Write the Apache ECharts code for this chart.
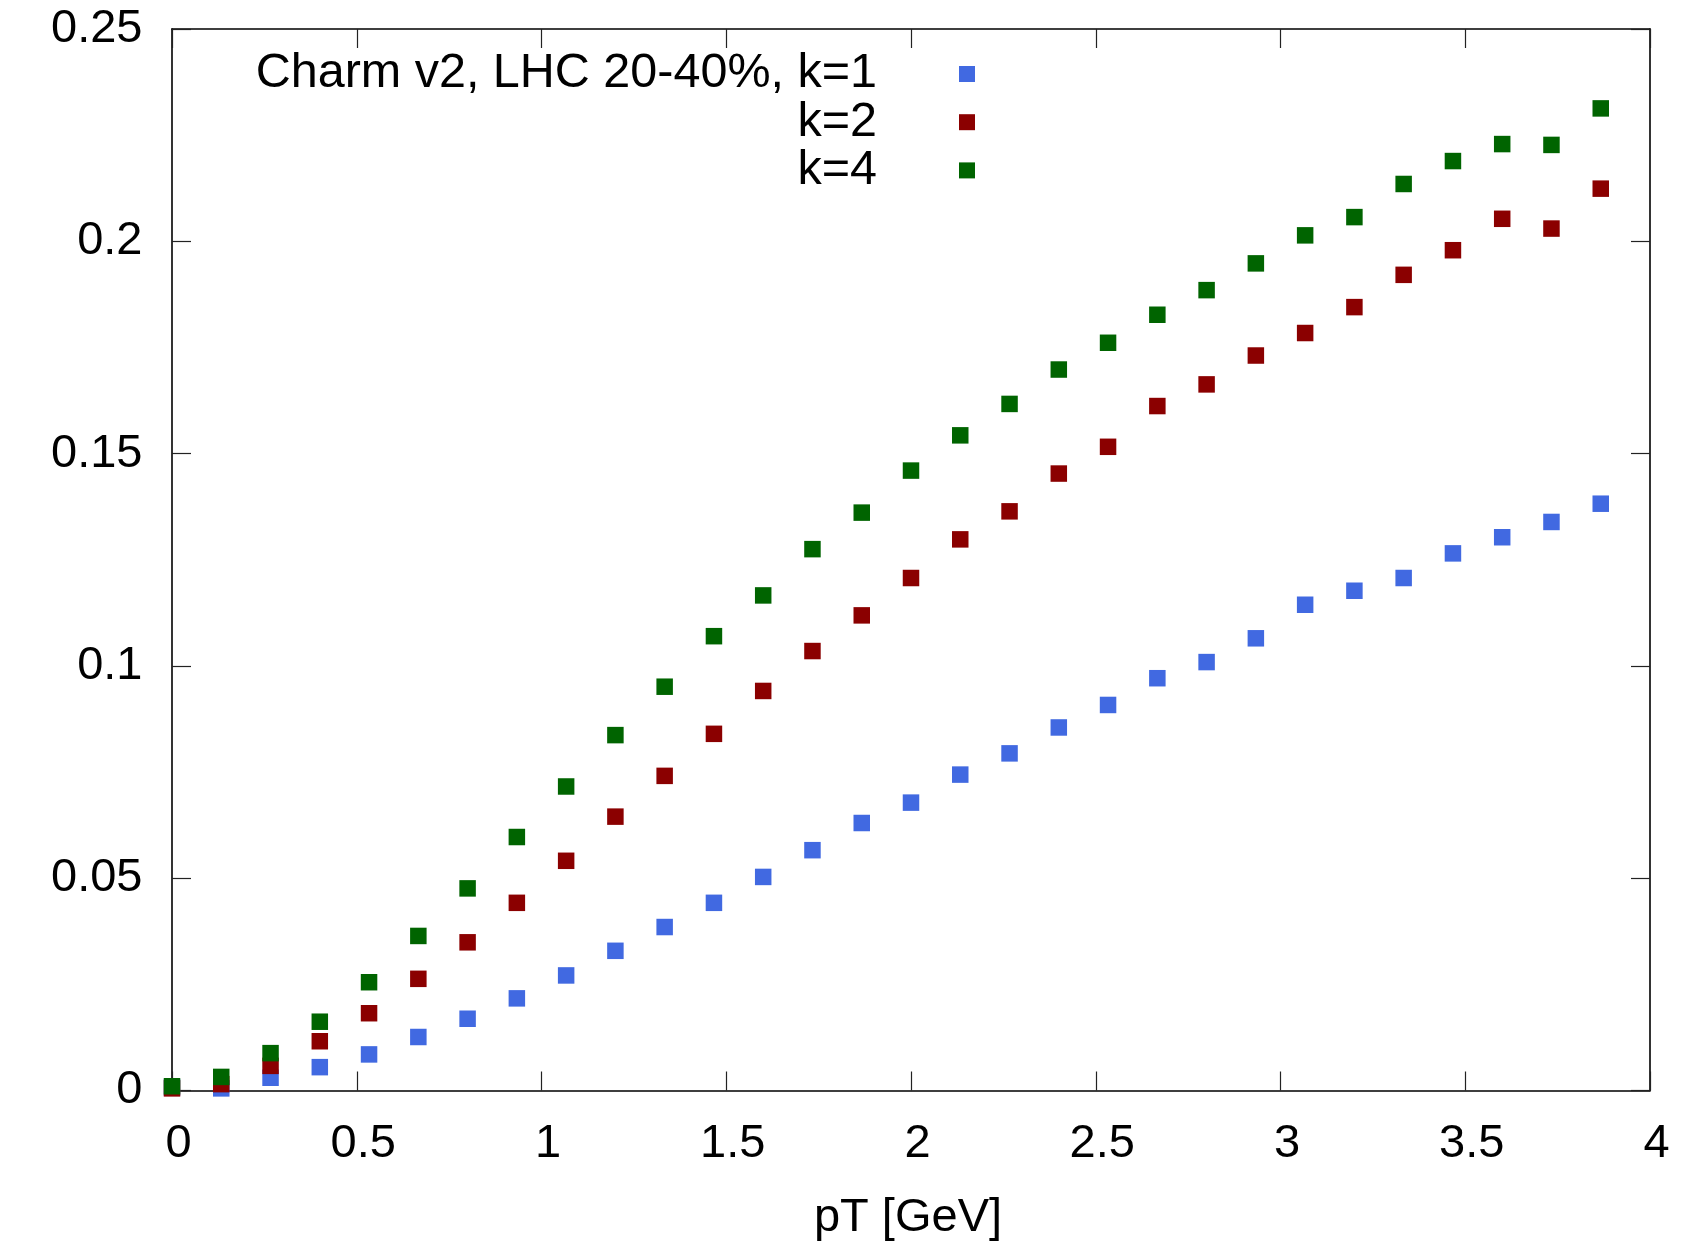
<!DOCTYPE html>
<html>
<head>
<meta charset="utf-8">
<script src="https://cdn.jsdelivr.net/npm/echarts@6/dist/echarts.min.js"></script>
<style>
html,body{margin:0;padding:0;background:#fff;}
#chart{width:1685px;height:1248px;}
</style>
</head>
<body>
<div id="chart"></div>
<script>
const ptValues = [0.0,0.1333,0.2667,0.4,0.5333,0.6667,0.8,0.9333,1.0667,1.2,1.3333,1.4667,1.6,1.7333,1.8667,2.0,2.1333,2.2667,2.4,2.5333,2.6667,2.8,2.9333,3.0667,3.2,3.3333,3.4667,3.6,3.7333,3.8667];
const v2k1 = [0.0007,0.0005,0.003,0.0055,0.0085,0.0126,0.0169,0.0217,0.0271,0.0329,0.0385,0.0442,0.0503,0.0566,0.063,0.0678,0.0744,0.0794,0.0855,0.0908,0.0971,0.1009,0.1065,0.1144,0.1177,0.1207,0.1265,0.1303,0.1339,0.1382];
const v2k2 = [0.0005,0.0015,0.0058,0.0116,0.0182,0.0263,0.0349,0.0442,0.0541,0.0645,0.0741,0.084,0.0941,0.1035,0.1119,0.1207,0.1298,0.1364,0.1453,0.1516,0.1612,0.1663,0.1731,0.1784,0.1845,0.1921,0.1979,0.2053,0.203,0.2124];
const v2k4 = [0.001,0.0032,0.0088,0.0162,0.0255,0.0364,0.0476,0.0597,0.0716,0.0837,0.0951,0.107,0.1166,0.1275,0.1361,0.146,0.1543,0.1617,0.1698,0.1761,0.1827,0.1885,0.1948,0.2014,0.2057,0.2135,0.2189,0.2229,0.2227,0.2313];
const seriesNames = ['Charm v2, LHC 20-40%, k=1','k=2','k=4'];
const seriesColors = ['#4169e1','#8b0000','#006400'];
const xAxisTitle = 'pT [GeV]';

const FONT = '"Liberation Sans", Arial, Helvetica, sans-serif';
const chart = echarts.init(document.getElementById('chart'), null, {renderer:'canvas'});
const zip = (xs, ys) => xs.map((x,i)=>[x, ys[i]]);
const allY = [v2k1, v2k2, v2k4];

const axisLine = {show:true, onZero:false, lineStyle:{color:'#000', width:1.6}};
const tick = {show:true, inside:true, length:19, lineStyle:{color:'#222', width:1.2}};

const option = {
  animation:false,
  backgroundColor:'#fff',
  grid:{left:172, right:35, top:29, bottom:157.5, containLabel:false},
  legend:{
    orient:'vertical', right:710, top:49.5, padding:0,
    align:'right', itemWidth:16, itemHeight:16, itemGap:-0.8,
    icon:'rect',
    data:seriesNames,
    textStyle:{fontFamily:FONT, fontSize:48.5, color:'#000', lineHeight:45.5, padding:[0,77,0,0]}
  },
  xAxis:[{
    type:'value', min:0, max:4, interval:0.5, position:'bottom',
    name:xAxisTitle, nameLocation:'middle', nameGap:104,
    nameTextStyle:{fontFamily:FONT, fontSize:47, color:'#000', padding:[0,6,0,0]},
    axisLine:axisLine, axisTick:tick, splitLine:{show:false},
    axisLabel:{fontFamily:FONT, fontSize:47, color:'#000', margin:30, padding:[0,0,0,13]}
  },{
    type:'value', min:0, max:4, interval:0.5, position:'top',
    axisLine:axisLine, axisTick:tick, splitLine:{show:false}, axisLabel:{show:false}
  }],
  yAxis:[{
    type:'value', min:0, max:0.25, interval:0.05, position:'left',
    axisLine:axisLine, axisTick:tick, splitLine:{show:false},
    axisLabel:{fontFamily:FONT, fontSize:47, color:'#000', margin:29.5, padding:[9,0,0,0]}
  },{
    type:'value', min:0, max:0.25, interval:0.05, position:'right',
    axisLine:axisLine, axisTick:tick, splitLine:{show:false}, axisLabel:{show:false}
  }],
  series: seriesNames.map((name,k)=>({
    name:name, type:'scatter', symbol:'rect', symbolSize:16.5,
    itemStyle:{color:seriesColors[k], opacity:1},
    z:2+k,
    data:zip(ptValues, allY[k])
  }))
};
chart.setOption(option);
</script>
</body>
</html>
